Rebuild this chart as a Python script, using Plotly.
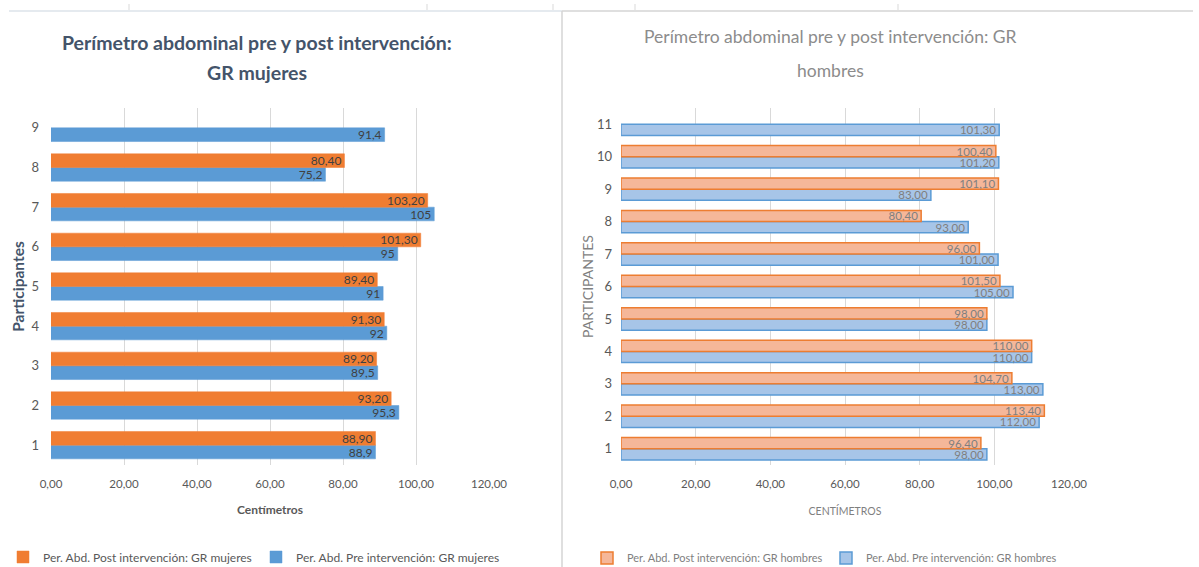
import plotly.graph_objects as go

W, H = 1199, 567

# ---------------- data ----------------
participants_m = [1, 2, 3, 4, 5, 6, 7, 8, 9]
post_m = [88.90, 93.20, 89.20, 91.30, 89.40, 101.30, 103.20, 80.40, None]
pre_m = [88.9, 95.3, 89.5, 92, 91, 95, 105, 75.2, 91.4]

participants_h = [1, 2, 3, 4, 5, 6, 7, 8, 9, 10, 11]
post_h = [96.40, 113.40, 104.70, 110.00, 98.00, 101.50, 96.00, 80.40, 101.10, 100.40, None]
pre_h = [98.00, 112.00, 113.00, 110.00, 98.00, 105.00, 101.00, 93.00, 83.00, 101.20, 101.30]

x_ticks = [0, 20, 40, 60, 80, 100, 120]
x_ticklabels = ["0,00", "20,00", "40,00", "60,00", "80,00", "100,00", "120,00"]

title_m_lines = ["Perímetro abdominal pre y post intervención:", "GR mujeres"]
title_h_lines = ["Perímetro abdominal pre y post intervención: GR", "hombres"]
name_post_m = "Per. Abd. Post intervención: GR mujeres"
name_pre_m = "Per. Abd. Pre intervención: GR mujeres"
name_post_h = "Per. Abd. Post intervención: GR hombres"
name_pre_h = "Per. Abd. Pre intervención: GR hombres"

FONT = "Lato, Roboto, sans-serif"


def fmt2(v):
    return "" if v is None else f"{v:.2f}".replace(".", ",")


def fmtg(v):
    return "" if v is None else f"{v:g}".replace(".", ",")


def px_x(p):
    return p / W


def px_y(p):
    return 1 - p / H


fig = go.Figure()

common_text = dict(textposition="inside", insidetextanchor="end", textangle=0,
                   constraintext="none", cliponaxis=False)

# left chart (mujeres)
fig.add_trace(go.Bar(
    y=participants_m, x=pre_m, orientation="h", name=name_pre_m,
    marker=dict(color="#5B9BD5", line=dict(color="#5B9BD5", width=0.5)),
    text=[fmtg(v) for v in pre_m], textfont=dict(color="#404040", size=12, family=FONT),
    xaxis="x", yaxis="y", legend="legend", **common_text,
))
fig.add_trace(go.Bar(
    y=participants_m, x=post_m, orientation="h", name=name_post_m,
    marker=dict(color="#F07D32", line=dict(color="#F07D32", width=0.5)),
    text=[fmt2(v) for v in post_m], textfont=dict(color="#404040", size=12, family=FONT),
    xaxis="x", yaxis="y", legend="legend", **common_text,
))

# right chart (hombres)
fig.add_trace(go.Bar(
    y=participants_h, x=pre_h, orientation="h", name=name_pre_h,
    marker=dict(color="#A7C5E8", line=dict(color="#5B9BD5", width=1.5)),
    text=[fmt2(v) for v in pre_h], textfont=dict(color="#7F7F7F", size=11.5, family=FONT),
    xaxis="x2", yaxis="y2", legend="legend2", **common_text,
))
fig.add_trace(go.Bar(
    y=participants_h, x=post_h, orientation="h", name=name_post_h,
    marker=dict(color="#F5B799", line=dict(color="#ED7D31", width=1.5)),
    text=[fmt2(v) for v in post_h], textfont=dict(color="#7F7F7F", size=11.5, family=FONT),
    xaxis="x2", yaxis="y2", legend="legend2", **common_text,
))

grid = "#D9D9D9"
ydom = [px_y(465), px_y(108)]

xcommon = dict(range=[0, 120], tickvals=x_ticks, ticktext=x_ticklabels, showgrid=True,
               gridcolor=grid, gridwidth=1, zeroline=False, showline=False, ticks="",
               automargin=False, ticklabelstandoff=10,
               tickfont=dict(size=11.5, color="#595959"))
ycommon = dict(showgrid=False, zeroline=False, showline=False, ticks="", automargin=False,
               tickfont=dict(size=13, color="#595959"))

fig.update_layout(
    width=W, height=H,
    margin=dict(l=0, r=0, t=0, b=0, autoexpand=False),
    paper_bgcolor="white", plot_bgcolor="white",
    barmode="group", bargap=0.31, bargroupgap=0,
    font=dict(family=FONT, color="#595959", size=12),
    xaxis=dict(domain=[px_x(51), px_x(489)], anchor="y", **xcommon,
               title=dict(text="<b>Centímetros</b>", font=dict(size=12, color="#595959"), standoff=17)),
    yaxis=dict(domain=ydom, range=[0.5, 9.5], tickvals=participants_m,
               ticktext=[str(p) for p in participants_m], anchor="x", ticklabelstandoff=11,
               **ycommon,
               title=dict(text="<b>Participantes</b>", font=dict(size=15.5, color="#44546A"), standoff=3)),
    xaxis2=dict(domain=[px_x(621), px_x(1069)], anchor="y2", **xcommon,
                title=dict(text="CENTÍMETROS", font=dict(size=10.5, color="#7F7F7F"), standoff=19)),
    yaxis2=dict(domain=ydom, range=[0.5, 11.5], tickvals=participants_h,
                ticktext=[str(p) for p in participants_h], anchor="x2", ticklabelstandoff=8,
                **ycommon,
                title=dict(text="PARTICIPANTES", font=dict(size=14, color="#7F7F7F"), standoff=0)),
    legend=dict(orientation="h", x=px_x(3), y=px_y(557), xanchor="left", yanchor="middle",
                traceorder="reversed", font=dict(size=12, color="#595959"),
                itemwidth=30, entrywidth=208, bgcolor="rgba(0,0,0,0)"),
    legend2=dict(orientation="h", x=px_x(587), y=px_y(558), xanchor="left", yanchor="middle",
                 traceorder="reversed", font=dict(size=11, color="#7F7F7F"),
                 itemwidth=30, entrywidth=194, bgcolor="rgba(0,0,0,0)"),
    showlegend=True,
)

for txt, yy in zip(title_m_lines, [42, 72]):
    fig.add_annotation(text="<b>" + txt + "</b>", x=px_x(257), y=px_y(yy), xref="paper",
                       yref="paper", showarrow=False, xanchor="center", yanchor="middle",
                       font=dict(size=19.5, color="#44546A", family=FONT))
for txt, yy in zip(title_h_lines, [36, 70]):
    fig.add_annotation(text=txt, x=px_x(830), y=px_y(yy), xref="paper", yref="paper",
                       showarrow=False, xanchor="center", yanchor="middle",
                       font=dict(size=17.5, color="#8C8C8C", family=FONT))

# sheet borders around the two pasted charts
fig.add_shape(type="line", xref="paper", yref="paper", x0=px_x(9), x1=px_x(562),
              y0=px_y(11), y1=px_y(11), line=dict(color="#DCE3EA", width=1.5))
fig.add_shape(type="line", xref="paper", yref="paper", x0=px_x(562), x1=px_x(1193),
              y0=px_y(11), y1=px_y(11), line=dict(color="#D4D4D4", width=1.5))
fig.add_shape(type="line", xref="paper", yref="paper", x0=px_x(562), x1=px_x(562),
              y0=px_y(11), y1=0, line=dict(color="#D4D4D4", width=1.5))
for tx in [129, 427, 553, 635, 898]:
    fig.add_shape(type="line", xref="paper", yref="paper", x0=px_x(tx), x1=px_x(tx),
                  y0=px_y(4), y1=px_y(10), line=dict(color="#D9D9D9", width=1))

fig.write_html(
    "out.html",
    config={"displayModeBar": False},
    post_script="document.body.style.margin='0';document.body.style.overflow='hidden';",
)
